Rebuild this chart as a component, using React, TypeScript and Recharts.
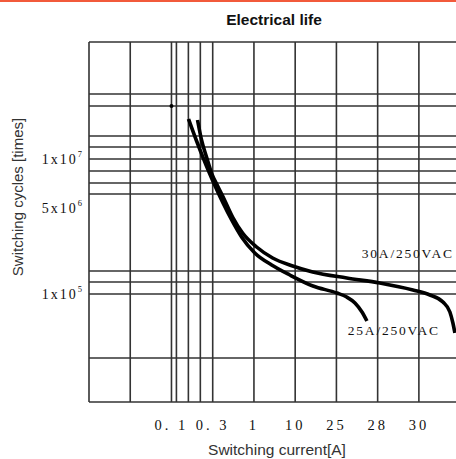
import { LineChart, Line, XAxis, YAxis, ReferenceLine, ReferenceDot } from 'recharts';

// ── Data ──────────────────────────────────────────────────────────────────────
// x runs along the axis tick slots (0 = "0.1", 1 = "0.3" ... 6 = "30"),
// y is a plain grid position (0 = bottom, 36 = top).

const X_TICKS = [0, 1, 2, 3, 4, 5, 6];
const X_LABELS = ['0. 1', '0. 3', '1', '10', '25', '28', '30'];

const Y_TICKS = [24.3, 19.4, 10.8];
const Y_BASE = ['1x10', '5x10', '1x10'];
const Y_EXP = ['7', '6', '5'];

const X_GRID = [-2, -1, 0, 0.12, 0.41, 0.7, 1, 2, 3, 4, 5, 6];
const Y_GRID = [36, 30.8, 29.6, 26.6, 25.5, 24.3, 23.1, 21.9, 20.8, 13.1, 12.0, 10.8, 4.4, 0];

const CURVE_25A = [
  { x: 0.413, y: 28.3 },
  { x: 0.6, y: 26.2 },
  { x: 0.76, y: 24.5 },
  { x: 0.92, y: 22.9 },
  { x: 1.08, y: 21.4 },
  { x: 1.25, y: 19.9 },
  { x: 1.46, y: 18.2 },
  { x: 1.7, y: 16.5 },
  { x: 2.02, y: 14.9 },
  { x: 2.43, y: 13.7 },
  { x: 2.87, y: 12.7 },
  { x: 3.43, y: 11.6 },
  { x: 4.01, y: 10.9 },
  { x: 4.25, y: 10.5 },
  { x: 4.45, y: 9.9 },
  { x: 4.62, y: 9.0 },
  { x: 4.74, y: 8.1 },
];

const CURVE_30A = [
  { x: 0.632, y: 28.2 },
  { x: 0.729, y: 26.2 },
  { x: 0.85, y: 24.5 },
  { x: 0.972, y: 22.9 },
  { x: 1.12, y: 21.6 },
  { x: 1.287, y: 20.2 },
  { x: 1.482, y: 18.5 },
  { x: 1.725, y: 16.9 },
  { x: 2.065, y: 15.5 },
  { x: 2.453, y: 14.4 },
  { x: 2.939, y: 13.6 },
  { x: 3.425, y: 13.0 },
  { x: 4.251, y: 12.4 },
  { x: 5.052, y: 11.9 },
  { x: 5.854, y: 11.2 },
  { x: 6.267, y: 10.7 },
  { x: 6.583, y: 10.0 },
  { x: 6.752, y: 9.0 },
  { x: 6.825, y: 7.9 },
  { x: 6.874, y: 6.9 },
];

const MARKER = { x: 0, y: 29.6 };
const LABEL_30A = { x: 4.615, y: 14.9, text: '30A/250VAC' };
const LABEL_25A = { x: 4.275, y: 7.2, text: '25A/250VAC' };

// ── Styles ────────────────────────────────────────────────────────────────────

const SERIF = '"Liberation Serif", "DejaVu Serif", serif';
const SANS = '"Liberation Sans", Arial, sans-serif';
const GRID = '#333';

function XTick({ x, y, payload }: any) {
  const i = X_TICKS.indexOf(payload.value);
  return (
    <text x={x} y={y} dy="0.35em" textAnchor="middle" fontFamily={SERIF} fontSize={14.5}
      letterSpacing={3} fill="#111">
      {X_LABELS[i]}
    </text>
  );
}

function YTick({ x, y, payload }: any) {
  const i = Y_TICKS.indexOf(payload.value);
  return (
    <text x={x} y={y} dy="0.35em" textAnchor="end" fontFamily={SERIF} fontSize={14} fill="#111">
      <tspan letterSpacing={2}>{Y_BASE[i]}</tspan>
      <tspan dy={-7} fontSize={8.5}>{Y_EXP[i]}</tspan>
    </text>
  );
}

function CurveLabel(text: string) {
  return ({ viewBox }: any) => (
    <text x={viewBox.x} y={viewBox.y} dy="0.35em" textAnchor="start" fontFamily={SERIF}
      fontSize={13.5} letterSpacing={1.8} fill="#111">
      {text}
    </text>
  );
}

export default function App() {
  return (
    <div style={{ position: 'absolute', left: 0, top: 0, width: 456, height: 459, overflow: 'hidden', background: '#fff' }}>
      <div style={{ position: 'absolute', left: 0, top: 0, width: 456, height: 2, background: '#f25a3b' }} />
      <div style={{ position: 'absolute', left: 174, top: 11, width: 200, lineHeight: '18px', textAlign: 'center',
        fontFamily: SANS, fontWeight: 'bold', fontSize: 15.5, color: '#111' }}>
        Electrical life
      </div>

      <LineChart width={456} height={459} margin={{ top: 42, right: 0, left: 0, bottom: 0 }}>
        <XAxis type="number" dataKey="x" domain={[-2, 6.9]} allowDataOverflow ticks={X_TICKS}
          tick={<XTick />} tickSize={0} tickMargin={23} axisLine={false} height={57} />
        <YAxis type="number" dataKey="y" domain={[0, 36]} allowDataOverflow ticks={Y_TICKS}
          tick={<YTick />} tickSize={0} tickMargin={7} axisLine={false} width={89} />

        {X_GRID.map(v => (
          <ReferenceLine key={'x' + v} x={v} stroke={GRID} strokeWidth={1.6} ifOverflow="visible" />
        ))}
        {Y_GRID.map(v => (
          <ReferenceLine key={'y' + v} y={v} stroke={GRID} strokeWidth={1.6} ifOverflow="visible" />
        ))}

        <ReferenceDot x={MARKER.x} y={MARKER.y} r={2} fill="#000" stroke="none" />

        <Line data={CURVE_25A} dataKey="y" type="monotone" stroke="#000" strokeWidth={3.6}
          dot={false} isAnimationActive={false} />
        <Line data={CURVE_30A} dataKey="y" type="monotone" stroke="#000" strokeWidth={3.6}
          dot={false} isAnimationActive={false} />

        <ReferenceDot x={LABEL_30A.x} y={LABEL_30A.y} r={0} stroke="none"
          label={CurveLabel(LABEL_30A.text)} />
        <ReferenceDot x={LABEL_25A.x} y={LABEL_25A.y} r={0} stroke="none"
          label={CurveLabel(LABEL_25A.text)} />
      </LineChart>

      <div style={{ position: 'absolute', left: 127, top: 441, width: 300, lineHeight: '18px', textAlign: 'center',
        fontFamily: SANS, fontSize: 15.5, color: '#333' }}>
        Switching current[A]
      </div>
      <div style={{ position: 'absolute', left: -82, top: 188, width: 200, height: 18, lineHeight: '18px',
        textAlign: 'center', transform: 'rotate(-90deg)', fontFamily: SANS, fontSize: 15, color: '#333',
        whiteSpace: 'nowrap' }}>
        Switching cycles [times]
      </div>
    </div>
  );
}
